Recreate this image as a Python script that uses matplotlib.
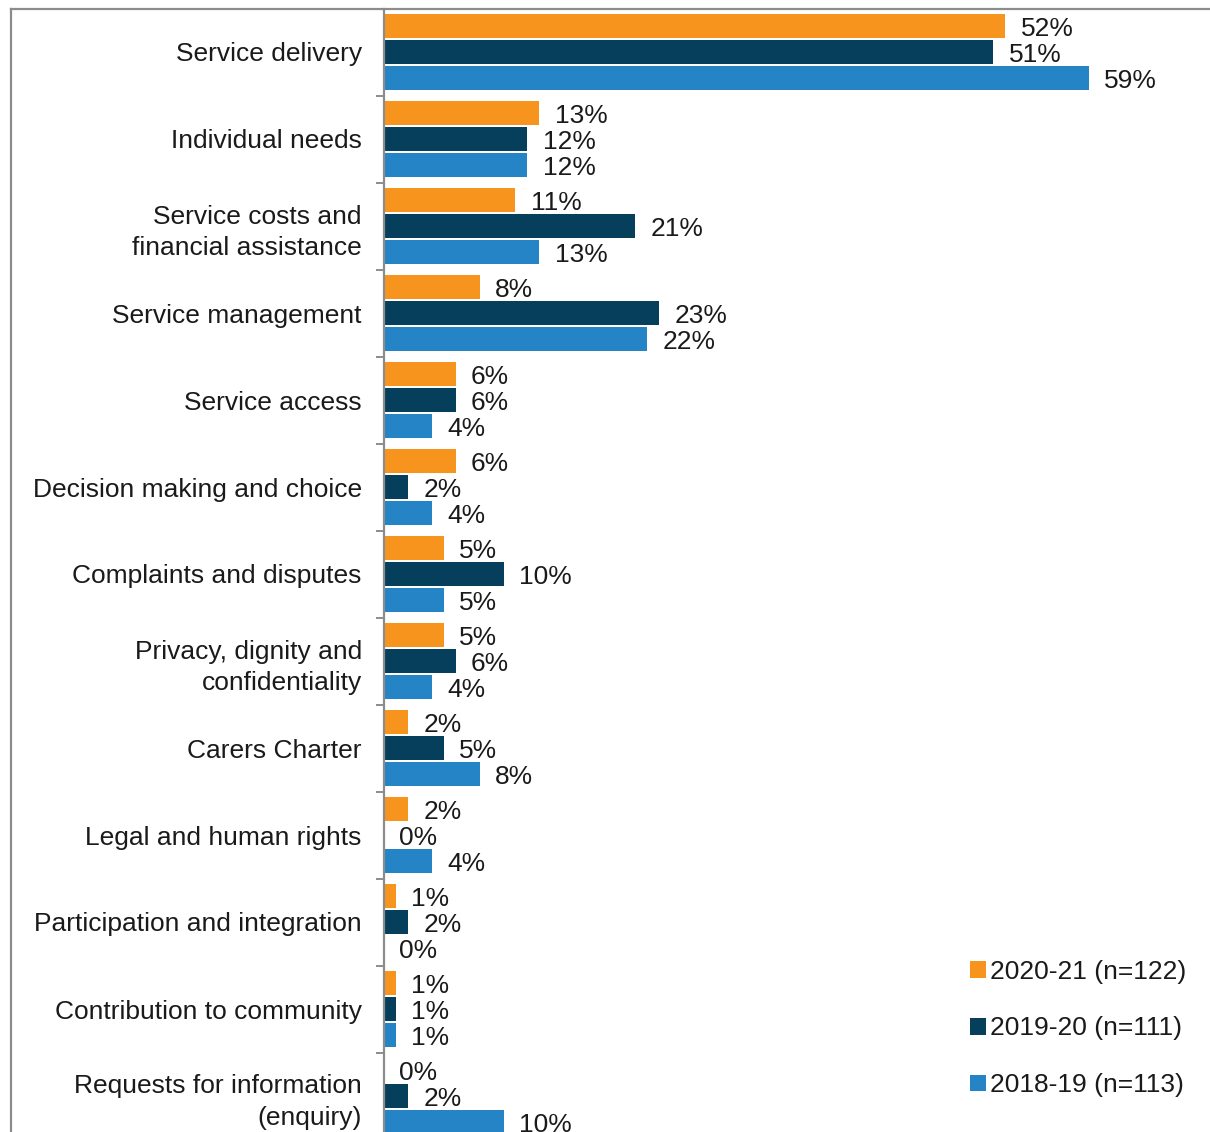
import matplotlib
matplotlib.use("Agg")
import matplotlib.pyplot as plt
from matplotlib.lines import Line2D
import numpy as np

plt.rcParams['font.family'] = ['Liberation Sans', 'DejaVu Sans']

categories = [
    "Service delivery",
    "Individual needs",
    "Service costs and\nfinancial assistance",
    "Service management",
    "Service access",
    "Decision making and choice",
    "Complaints and disputes",
    "Privacy, dignity and\nconfidentiality",
    "Carers Charter",
    "Legal and human rights",
    "Participation and integration",
    "Contribution to community",
    "Requests for information\n(enquiry)",
]
series_names = ["2020-21 (n=122)", "2019-20 (n=111)", "2018-19 (n=113)"]
values_2020_21 = [52, 13, 11, 8, 6, 6, 5, 5, 2, 2, 1, 1, 0]
values_2019_20 = [51, 12, 21, 23, 6, 2, 10, 6, 5, 0, 2, 1, 2]
values_2018_19 = [59, 12, 13, 22, 4, 4, 5, 4, 8, 4, 0, 1, 10]
series_colors = ["#F7941E", "#063F5C", "#2484C6"]

FS = 19
TEXT = "#1a1a1a"

W, H = 1210, 1132
fig = plt.figure(figsize=(W / 100, H / 100), dpi=100)

# axes geometry in pixels
ax_left, ax_top = 384, 8.5
cat_px = 87.0
n = len(categories)
ax_height_px = cat_px * n
xmax = 68
px_per_unit = 11.95
ax_width_px = xmax * px_per_unit
ax = fig.add_axes([ax_left / W, 1 - (ax_top + ax_height_px) / H,
                   ax_width_px / W, ax_height_px / H])

y = np.arange(n)
step = 0.299
height = 0.283
series = [values_2020_21, values_2019_20, values_2018_19]
handles = []
for i, (vals, col, name) in enumerate(zip(series, series_colors, series_names)):
    ypos = y + (i - 1) * step
    bars = ax.barh(ypos, vals, height=height, color=col,
                   label=name, edgecolor="none")
    for v, yy in zip(vals, ypos):
        ax.annotate(f"{v}%", xy=(v, yy), xytext=(11, -7.3),
                    textcoords="offset points", ha="left", va="baseline",
                    fontsize=FS, color=TEXT)
    handles.append(bars)

ax.set_xlim(0, xmax)
ax.set_ylim(n - 0.5, -0.5)
ax.set_yticks(y)
ax.set_yticklabels(categories, fontsize=FS, color=TEXT, linespacing=1.38)
ax.tick_params(axis="y", which="major", length=0, pad=16)
ax.set_yticks(np.arange(n - 1) + 0.5, minor=True)
ax.tick_params(axis="y", which="minor", length=6, width=1.4, color="#8c8c8c",
               direction="out")
ax.set_xticks([])
for s in ["top", "right", "bottom"]:
    ax.spines[s].set_visible(False)
ax.spines["left"].set_color("#8c8c8c")
ax.spines["left"].set_linewidth(1.6)

# outer frame (top and left edges)
fx0, fy0 = 10.5 / W, 1 - 9 / H
fig.add_artist(Line2D([fx0, 1.0], [fy0, fy0], transform=fig.transFigure,
                      color="#8c8c8c", lw=1.6))
fig.add_artist(Line2D([fx0, fx0], [fy0, 0.0], transform=fig.transFigure,
                      color="#8c8c8c", lw=1.6))

fig.legend(handles=handles, labels=series_names, loc="upper left",
           bbox_to_anchor=(946 / W, 1 - 936 / H), frameon=False, fontsize=FS,
           handlelength=0.6, handleheight=0.6, handletextpad=0.15,
           labelspacing=1.24, labelcolor=TEXT)

fig.savefig("out.png", dpi=100)
